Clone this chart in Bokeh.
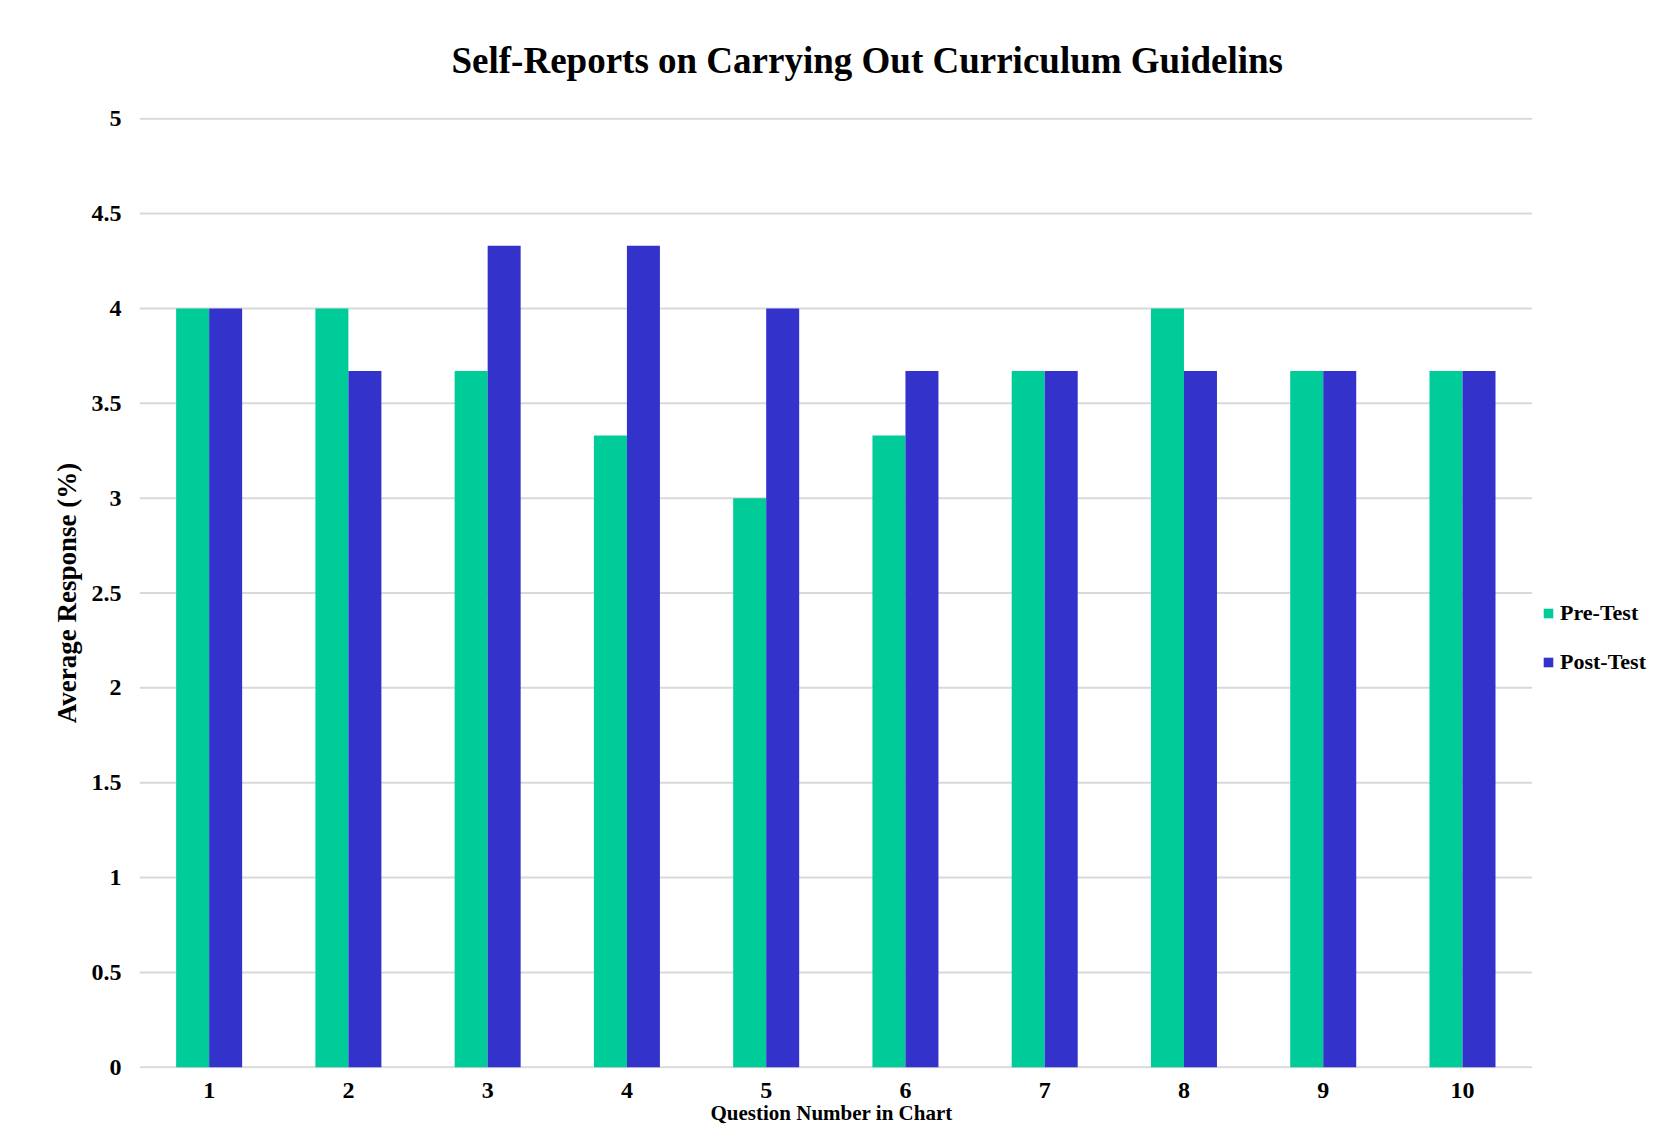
from bokeh.plotting import figure
from bokeh.models import Range1d, ColumnDataSource, Legend, LegendItem, FixedTicker, Title
from bokeh.transform import dodge
from bokeh.embed import file_html
from bokeh.resources import INLINE

# ---- data ----
questions = ["1", "2", "3", "4", "5", "6", "7", "8", "9", "10"]
pre_test = [4.0, 4.0, 3.67, 3.33, 3.0, 3.33, 3.67, 4.0, 3.67, 3.67]
post_test = [4.0, 3.67, 4.33, 4.33, 4.0, 3.67, 3.67, 3.67, 3.67, 3.67]
series_names = ["Pre-Test", "Post-Test"]
y_ticks = [0, 0.5, 1, 1.5, 2, 2.5, 3, 3.5, 4, 4.5, 5]
y_tick_labels = ["0", "0.5", "1", "1.5", "2", "2.5", "3", "3.5", "4", "4.5", "5"]
title_text = "Self-Reports on Carrying Out Curriculum Guidelins"
x_title = "Question Number in Chart"
y_title = "Average Response (%)"

FONT = "Liberation Serif"
GREEN = "#00CC99"
BLUE = "#3333CC"
GRID = "#D9D9D9"

q_pos = [int(q) for q in questions]
n = len(questions)
src = ColumnDataSource(dict(x=q_pos, pre=pre_test, post=post_test))
grid_src = ColumnDataSource(dict(y=y_ticks, x0=[0.5] * len(y_ticks),
                                 x1=[n + 0.5] * len(y_ticks)))

p = figure(
    width=1650, height=1126,
    x_range=Range1d(0.5, 11.35),
    y_range=Range1d(-0.006, 5.006),
    output_backend="svg", toolbar_location=None,
    min_border_left=139, min_border_right=0,
    min_border_top=116, min_border_bottom=56,
)
p.outline_line_color = None
p.background_fill_color = "white"
p.xgrid.grid_line_color = None
p.ygrid.grid_line_color = None

# horizontal gridlines over the category span only
p.segment(x0="x0", x1="x1", y0="y", y1="y", source=grid_src,
          line_color=GRID, line_width=2, level="underlay")

BW = 0.237
r_pre = p.vbar(x=dodge("x", -BW / 2), top="pre", width=BW,
               source=src, fill_color=GREEN, line_color=None)
r_post = p.vbar(x=dodge("x", BW / 2), top="post", width=BW,
                source=src, fill_color=BLUE, line_color=None)

# title
p.title.text = title_text
p.title.align = "left"
p.title.offset = 312
p.title.vertical_align = "bottom"
p.title.standoff = 74
p.title.text_font = FONT
p.title.text_font_style = "bold"
p.title.text_font_size = "37px"
p.title.text_color = "black"

# axes
p.xaxis.ticker = FixedTicker(ticks=q_pos)
p.xaxis.major_label_overrides = {x: q for x, q in zip(q_pos, questions)}
p.yaxis.ticker = FixedTicker(ticks=y_ticks)
p.yaxis.major_label_overrides = {t: l for t, l in zip(y_ticks, y_tick_labels)}
for ax in (p.xaxis, p.yaxis):
    ax.axis_line_color = None
    ax.major_tick_line_color = None
    ax.minor_tick_line_color = None
    ax.major_tick_out = 0
    ax.major_tick_in = 0
    ax.minor_tick_out = 0
    ax.minor_tick_in = 0
    ax.major_label_text_font = FONT
    ax.major_label_text_font_style = "bold"
    ax.major_label_text_font_size = "24px"
    ax.major_label_text_color = "black"
    ax.axis_label_text_font = FONT
    ax.axis_label_text_font_style = "bold"
    ax.axis_label_text_color = "black"
p.xaxis.major_label_standoff = 14
p.yaxis.major_label_standoff = 18

p.yaxis.axis_label = y_title
p.yaxis.axis_label_text_font_size = "27px"
p.yaxis.axis_label_standoff = 7

# x axis title, centred under the category span
p.add_layout(Title(text=x_title, align="left", offset=571, vertical_align="top",
                   standoff=0, text_font=FONT, text_font_style="bold",
                   text_font_size="21px", text_color="black"), "below")

legend = Legend(
    items=[LegendItem(label=series_names[0], renderers=[r_pre]),
           LegendItem(label=series_names[1], renderers=[r_post])],
    location=(1403, 393),
    orientation="vertical",
    glyph_width=12, glyph_height=12, label_height=12,
    spacing=23, padding=0, margin=0, label_standoff=6,
    border_line_color=None, background_fill_alpha=0,
    label_text_font=FONT, label_text_font_style="bold",
    label_text_font_size="22px", label_text_color="black",
)
p.add_layout(legend, "center")

open("out.html", "w").write(file_html(p, INLINE))
